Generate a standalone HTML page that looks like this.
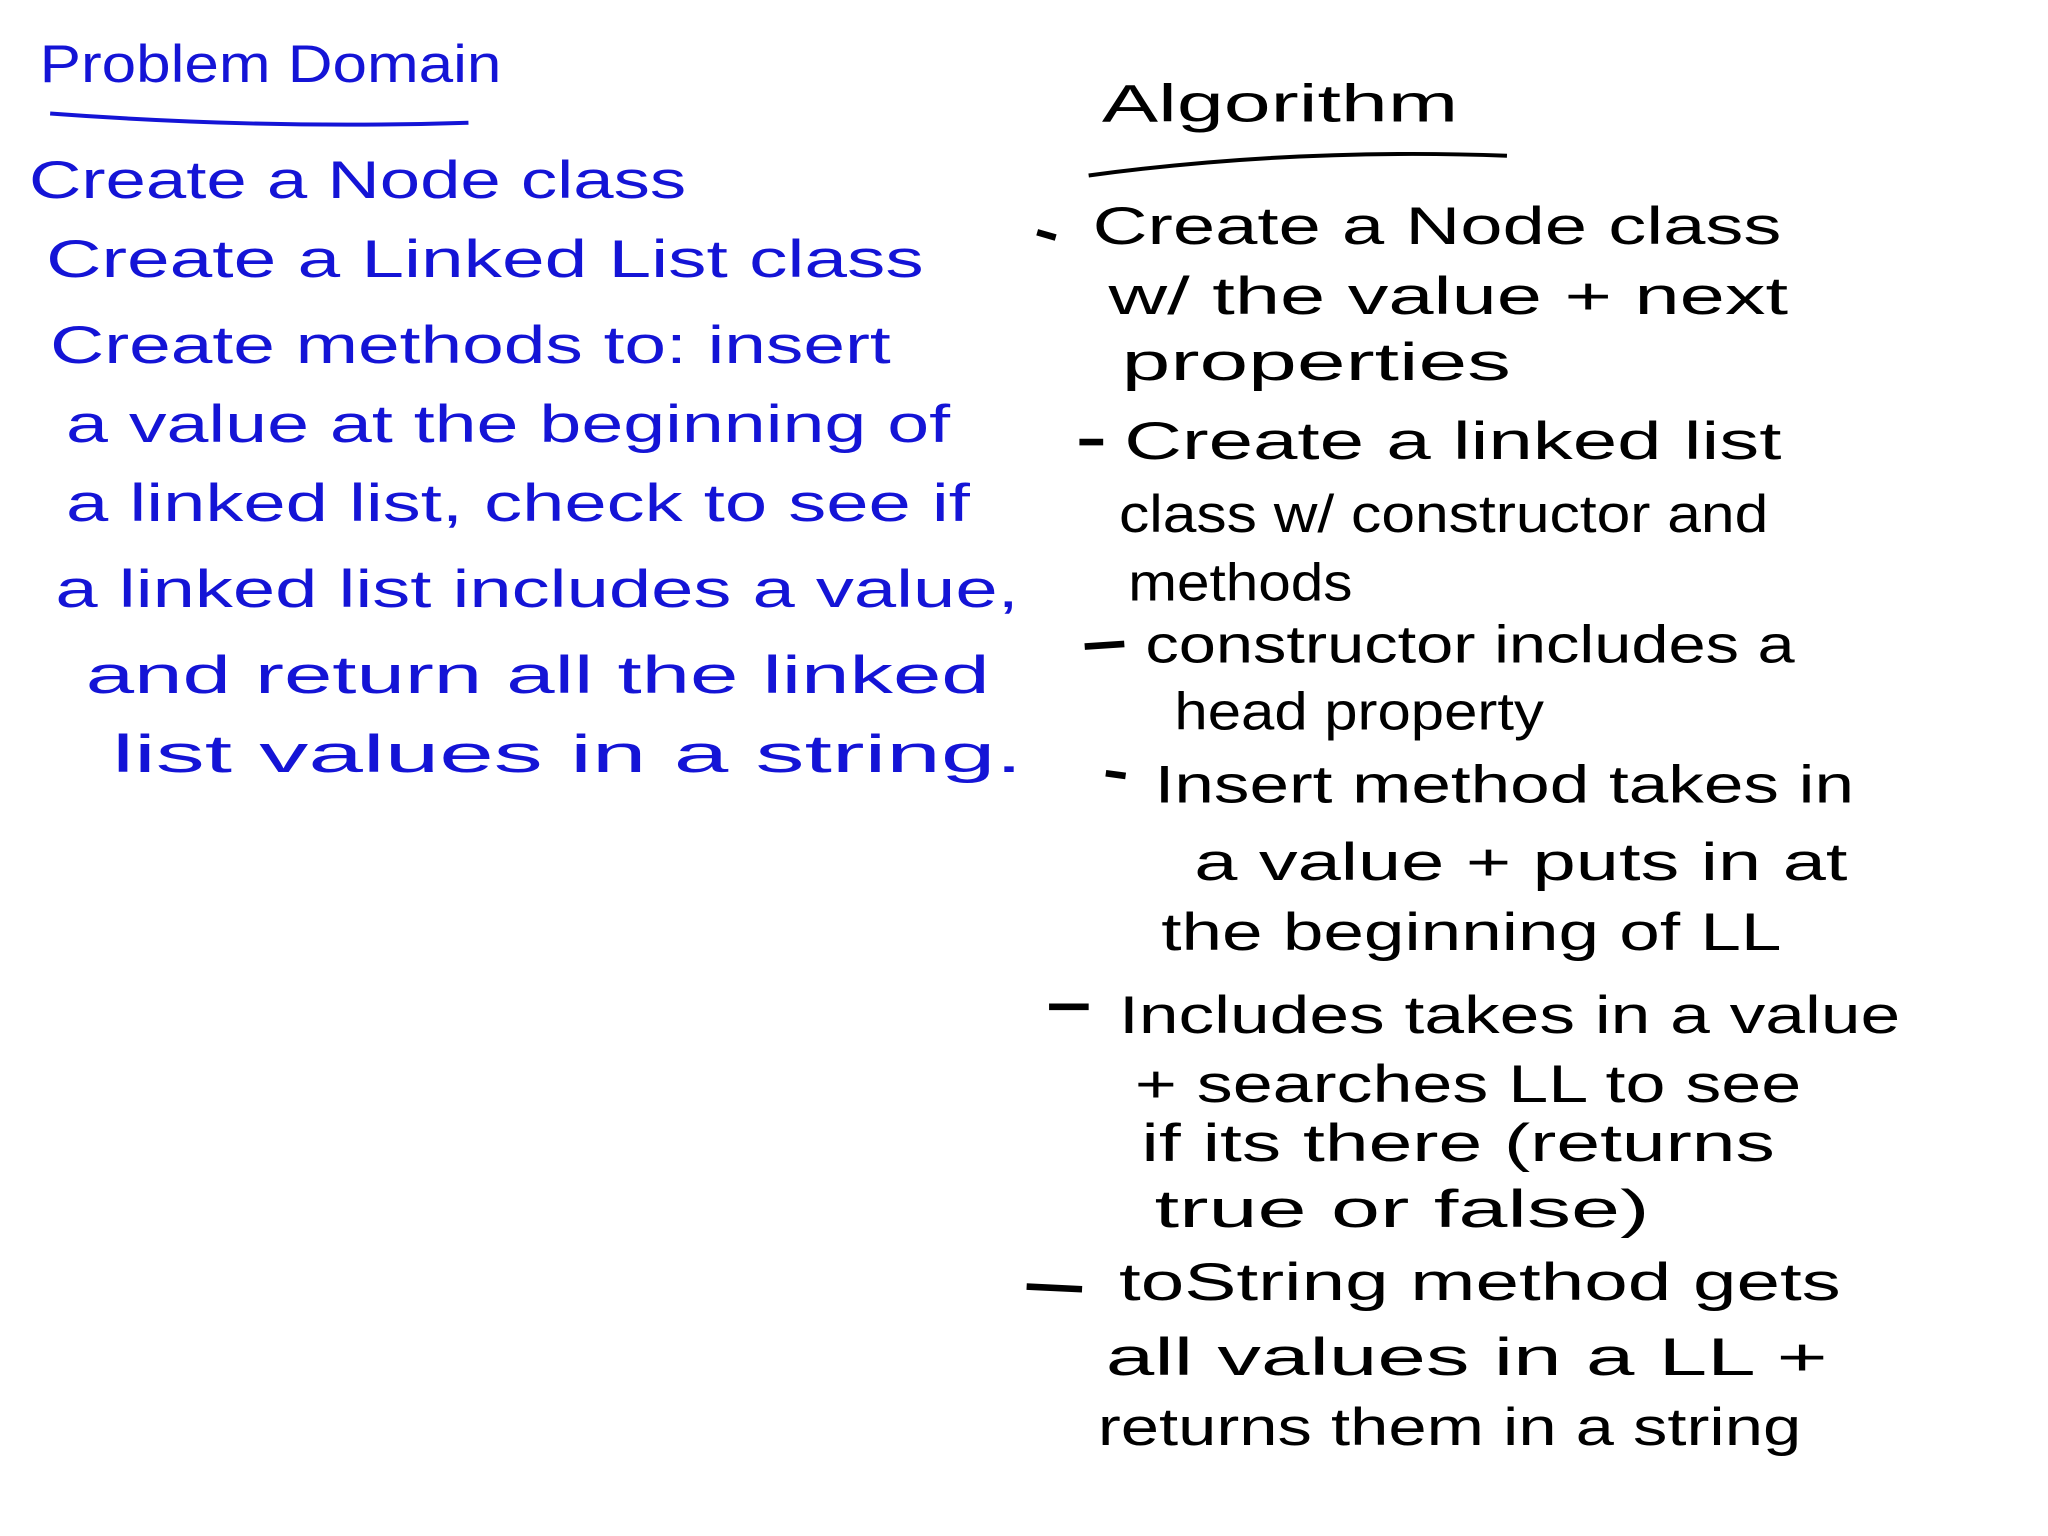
<!DOCTYPE html>
<html><head><meta charset="utf-8"><style>
html,body{margin:0;padding:0;background:#fff;}
svg{display:block}
.b{fill:#1414d6;font-family:"Liberation Sans",sans-serif;font-size:40px;}
.k{fill:#000;font-family:"Liberation Sans",sans-serif;font-size:40px;}
</style></head><body>
<svg width="2048" height="1536" viewBox="0 0 1552 1164">
<rect width="1552" height="1164" fill="#fff"/>
<g>
<text class="b" x="30" y="62" textLength="350" lengthAdjust="spacingAndGlyphs">Problem Domain</text>
<path d="M38 86 Q200 98 355 93" stroke="#1414d6" stroke-width="3" fill="none"/>
<text class="b" x="22" y="150" textLength="498" lengthAdjust="spacingAndGlyphs">Create a Node class</text>
<text class="b" x="35" y="210" textLength="665" lengthAdjust="spacingAndGlyphs">Create a Linked List class</text>
<text class="b" x="38" y="275" textLength="637" lengthAdjust="spacingAndGlyphs">Create methods to: insert</text>
<text class="b" x="50" y="335" textLength="670" lengthAdjust="spacingAndGlyphs">a value at the beginning of</text>
<text class="b" x="50" y="395" textLength="685" lengthAdjust="spacingAndGlyphs">a linked list, check to see if</text>
<text class="b" x="42" y="460" textLength="730" lengthAdjust="spacingAndGlyphs">a linked list includes a value,</text>
<text class="b" x="65" y="525" textLength="685" lengthAdjust="spacingAndGlyphs">and return all the linked</text>
<text class="b" x="85" y="585" textLength="690" lengthAdjust="spacingAndGlyphs">list values in a string.</text>
</g>
<g>
<text class="k" x="835" y="92" textLength="270" lengthAdjust="spacingAndGlyphs">Algorithm</text>
<path d="M825 133 Q980 112 1142 118" stroke="#000" stroke-width="3" fill="none"/>
<path d="M786 176 l14 4 M818 335 l18 0 M822 490 l30 -2 M838 586 l15 2 M795 763 l30 0 M778 975 l42 2" stroke="#000" stroke-width="5" fill="none"/>
<text class="k" x="828" y="185" textLength="522" lengthAdjust="spacingAndGlyphs">Create a Node class</text>
<text class="k" x="840" y="238" textLength="515" lengthAdjust="spacingAndGlyphs">w/ the value + next</text>
<text class="k" x="850" y="288" textLength="295" lengthAdjust="spacingAndGlyphs">properties</text>
<text class="k" x="852" y="348" textLength="498" lengthAdjust="spacingAndGlyphs">Create a linked list</text>
<text class="k" x="848" y="403" textLength="492" lengthAdjust="spacingAndGlyphs">class w/ constructor and</text>
<text class="k" x="855" y="455" textLength="170" lengthAdjust="spacingAndGlyphs">methods</text>
<text class="k" x="868" y="502" textLength="492" lengthAdjust="spacingAndGlyphs">constructor includes a</text>
<text class="k" x="890" y="553" textLength="280" lengthAdjust="spacingAndGlyphs">head property</text>
<text class="k" x="875" y="608" textLength="530" lengthAdjust="spacingAndGlyphs">Insert method takes in</text>
<text class="k" x="905" y="667" textLength="495" lengthAdjust="spacingAndGlyphs">a value + puts in at</text>
<text class="k" x="880" y="720" textLength="470" lengthAdjust="spacingAndGlyphs">the beginning of LL</text>
<text class="k" x="848" y="783" textLength="592" lengthAdjust="spacingAndGlyphs">Includes takes in a value</text>
<text class="k" x="860" y="835" textLength="505" lengthAdjust="spacingAndGlyphs">+ searches LL to see</text>
<text class="k" x="865" y="880" textLength="480" lengthAdjust="spacingAndGlyphs">if its there (returns</text>
<text class="k" x="875" y="930" textLength="375" lengthAdjust="spacingAndGlyphs">true or false)</text>
<text class="k" x="848" y="985" textLength="547" lengthAdjust="spacingAndGlyphs">toString method gets</text>
<text class="k" x="838" y="1042" textLength="547" lengthAdjust="spacingAndGlyphs">all values in a LL +</text>
<text class="k" x="832" y="1095" textLength="533" lengthAdjust="spacingAndGlyphs">returns them in a string</text>
</g>
</svg>
</body></html>
